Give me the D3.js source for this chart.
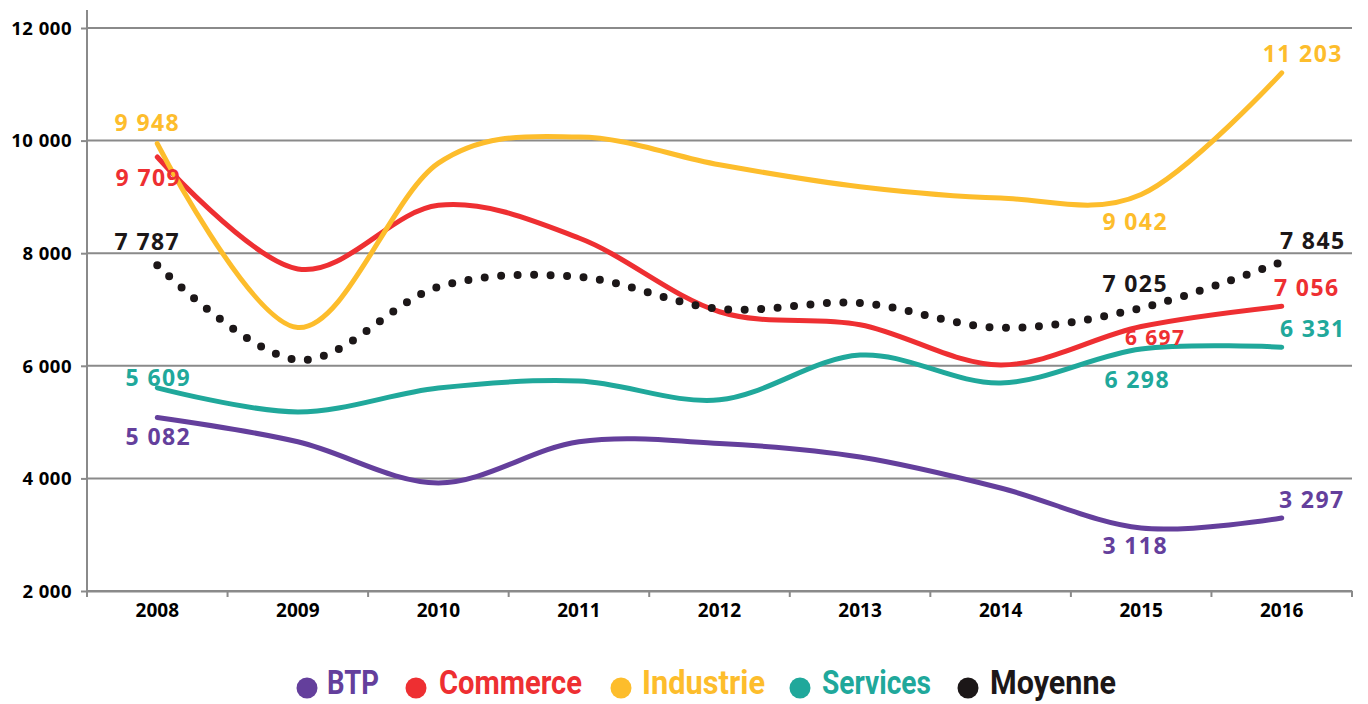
<!DOCTYPE html>
<html><head><meta charset="utf-8">
<script src="https://cdn.jsdelivr.net/npm/d3@7"></script>
<style>
html,body{margin:0;padding:0;background:#fff;}
svg{display:block;}
</style></head>
<body>
<svg id="chart" width="1368" height="704"></svg>
<script>
const years = ["2008","2009","2010","2011","2012","2013","2014","2015","2016"];
const btp       = [5082, 4650, 3920, 4650, 4620, 4380, 3830, 3118, 3297];
const commerce  = [9709, 7720, 8850, 8270, 6960, 6730, 6015, 6697, 7056];
const industrie = [9948, 6680, 9600, 10064, 9570, 9180, 8980, 9042, 11203];
const services  = [5609, 5180, 5605, 5730, 5395, 6190, 5695, 6298, 6331];
const moyenne   = [7787, 6105, 7400, 7580, 7010, 7115, 6675, 7025, 7845];
const yTicks = [2000, 4000, 6000, 8000, 10000, 12000];
const seriesNames = ["BTP","Commerce","Industrie","Services","Moyenne"];
const seriesColors = ["#643f9c","#ee2f32","#fdbd2c","#20a89b","#1c1718"];

const seriesData = [btp, commerce, industrie, services, moyenne];

// which points carry a label, with label offsets (px) relative to the point
const labelSpecs = [
  {s:0, i:0, dx:1, dy:28}, {s:0, i:7, dx:-6, dy:26}, {s:0, i:8, dx:30, dy:-10},
  {s:1, i:0, dx:-9, dy:29}, {s:1, i:7, dx:14, dy:18, small:true}, {s:1, i:8, dx:25, dy:-10},
  {s:2, i:0, dx:-10, dy:-13}, {s:2, i:7, dx:-6, dy:35}, {s:2, i:8, dx:21, dy:-11},
  {s:3, i:0, dx:1, dy:-2}, {s:3, i:7, dx:-4, dy:39}, {s:3, i:8, dx:31, dy:-10},
  {s:4, i:0, dx:-10, dy:-15}, {s:4, i:7, dx:-6, dy:-16}, {s:4, i:8, dx:31, dy:-13}
];

const svg = d3.select("#chart");
const mLeft = 87, mRight = 1352, mTop = 28, mBottom = 591;

const x = d3.scaleBand().domain(years).range([mLeft, mRight]).padding(0);
const y = d3.scaleLinear().domain([2000, 12000]).range([mBottom, mTop]);
const xc = d => x(d) + x.bandwidth()/2;

const fmt = v => d3.format(",")(v).replace(/,/g, " ");
const gridColor = "#8a8a8a";

// gridlines
svg.append("g").selectAll("line").data(yTicks).join("line")
  .attr("x1", mLeft).attr("x2", mRight)
  .attr("y1", d => y(d)).attr("y2", d => y(d))
  .attr("stroke", gridColor).attr("stroke-width", 2);

// y axis
const yAxis = svg.append("g").attr("transform", `translate(${mLeft},0)`)
  .call(d3.axisLeft(y).tickValues(yTicks).tickSize(6).tickPadding(8).tickFormat(fmt));
yAxis.select(".domain").remove();
yAxis.selectAll(".tick line").attr("stroke", gridColor).attr("stroke-width", 2);
yAxis.selectAll("text").attr("fill", "#000").style("font-family", "'Open Sans', sans-serif")
  .style("font-weight", "700").style("font-size", "18.5px").style("letter-spacing", "0.5px")
  .attr("dy", "0.34em").attr("x", -15);
svg.append("line").attr("x1", mLeft).attr("x2", mLeft).attr("y1", 10).attr("y2", mBottom + 6)
  .attr("stroke", gridColor).attr("stroke-width", 2);

// x axis
const xAxis = svg.append("g").attr("transform", `translate(0,${mBottom})`)
  .call(d3.axisBottom(x).tickSize(0).tickPadding(20));
xAxis.select(".domain").attr("stroke", gridColor).attr("stroke-width", 2);
xAxis.selectAll("text").attr("fill", "#000").style("font-family", "'Open Sans', sans-serif")
  .style("font-weight", "700").style("font-size", "19px").attr("dy", "0.3em");
const boundaries = years.map(d => x(d)).concat([mRight]);
svg.append("g").selectAll("line").data(boundaries).join("line")
  .attr("x1", d => d).attr("x2", d => d).attr("y1", mBottom).attr("y2", mBottom + 6)
  .attr("stroke", gridColor).attr("stroke-width", 2);

// lines
const line = d3.line().x((d, i) => xc(years[i])).y(d => y(d)).curve(d3.curveCardinal.tension(0));
seriesData.forEach((arr, si) => {
  const p = svg.append("path").attr("d", line(arr)).attr("fill", "none")
    .attr("stroke", seriesColors[si]).attr("stroke-linecap", "round");
  if (si === 4) {
    p.attr("stroke-width", 8).attr("stroke-dasharray", "0 16.5");
  } else {
    p.attr("stroke-width", 5);
  }
});

// labels
svg.append("g").selectAll("text").data(labelSpecs).join("text")
  .attr("x", d => xc(years[d.i]) + d.dx)
  .attr("y", d => y(seriesData[d.s][d.i]) + d.dy)
  .attr("text-anchor", "middle")
  .attr("fill", d => seriesColors[d.s])
  .style("font-family", "'Open Sans', sans-serif")
  .style("font-weight", "700")
  .style("font-size", d => d.small ? "21px" : "23px")
  .style("letter-spacing", "1.4px")
  .text(d => fmt(seriesData[d.s][d.i]));

// legend
const legendDot = [307, 416, 621, 800, 968];
const legendText = [327, 439, 642, 822, 990];
const legendW = [52, 143, 123, 109, 126];
const lg = svg.append("g").selectAll("g").data(seriesNames).join("g");
lg.append("circle").attr("cx", (d, i) => legendDot[i]).attr("cy", 688).attr("r", 10.5)
  .attr("fill", (d, i) => seriesColors[i]);
lg.append("text").attr("x", (d, i) => legendText[i]).attr("y", 694)
  .attr("textLength", (d, i) => legendW[i]).attr("lengthAdjust", "spacingAndGlyphs")
  .attr("fill", (d, i) => seriesColors[i])
  .style("font-family", "Roboto, 'Open Sans', sans-serif")
  .style("font-weight", "700").style("font-size", "33px")
  .text(d => d);
</script>
</body></html>
